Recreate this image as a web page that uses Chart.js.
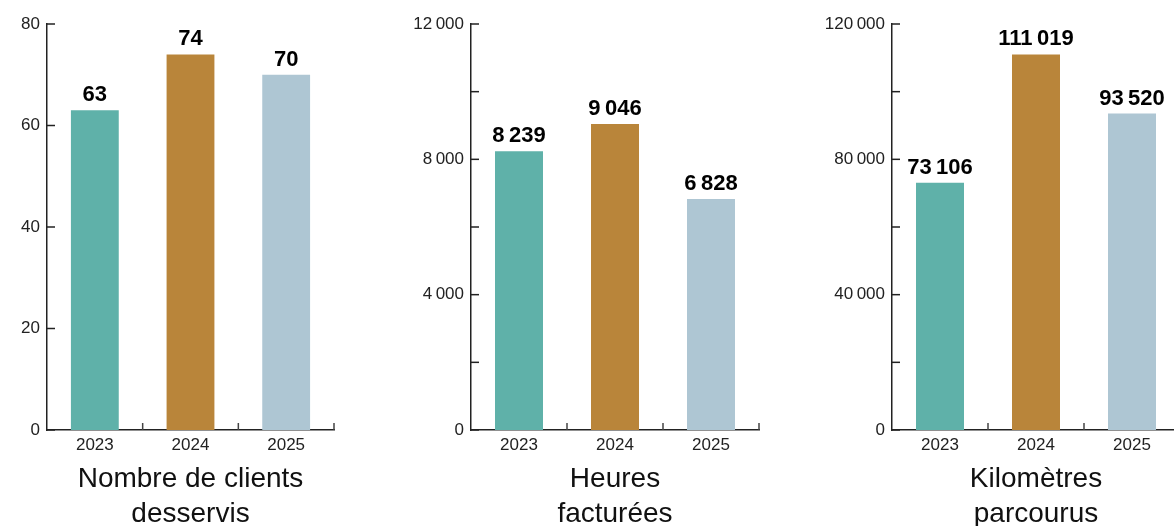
<!DOCTYPE html>
<html>
<head>
<meta charset="utf-8">
<script src="https://cdn.jsdelivr.net/npm/chart.js@4"></script>
<style>
  html, body { margin: 0; padding: 0; background: #fff; }
  body { width: 1174px; height: 526px; overflow: hidden; position: relative; }
  .panel { position: absolute; top: 0; }
</style>
</head>
<body>
<div class="panel" style="left:0px"><canvas id="chart1" width="400" height="540"></canvas></div>
<div class="panel" style="left:400px"><canvas id="chart2" width="420" height="540"></canvas></div>
<div class="panel" style="left:820px"><canvas id="chart3" width="420" height="540"></canvas></div>
<script>
    const years = ['2023', '2024', '2025'];
    const clients = [63, 74, 70];
    const heures = [8239, 9046, 6828];
    const kilometres = [73106, 111019, 93520];
    const titles = [['Nombre de clients', 'desservis'], ['Heures', 'facturées'], ['Kilomètres', 'parcourus']];
    const yMax = [80, 12000, 120000];
    const yMajor = [20, 4000, 40000];
    const yMinor = [20, 2000, 20000];
    const colors = ['#5fb1a9', '#b9853a', '#aec6d3'];

    const FONT = "'Liberation Sans', Arial, Helvetica, sans-serif";

    // espace fine comme séparateur de milliers
    function fmt(v) {
        return v.toLocaleString('fr-FR').replace(/\s/g, '\u2009');
    }

    const valueLabels = {
        id: 'valueLabels',
        afterDatasetsDraw(chart) {
            const ctx = chart.ctx;
            const meta = chart.getDatasetMeta(0);
            const values = chart.data.datasets[0].data;
            ctx.save();
            ctx.font = 'bold 22px ' + FONT;
            ctx.fillStyle = '#000';
            ctx.textAlign = 'center';
            ctx.textBaseline = 'alphabetic';
            meta.data.forEach((bar, i) => {
                ctx.fillText(fmt(values[i]), bar.x, bar.y - 9);
            });
            ctx.restore();
        }
    };

    // graduations tournées vers l'intérieur
    const innerTicks = {
        id: 'innerTicks',
        afterDraw(chart) {
            const ctx = chart.ctx;
            const area = chart.chartArea;
            const x = chart.scales.x;
            const y = chart.scales.y;
            ctx.save();
            ctx.lineWidth = 1.5;
            ctx.strokeStyle = '#222';
            y.ticks.forEach((t, i) => {
                const py = y.getPixelForTick(i);
                ctx.beginPath();
                ctx.moveTo(area.left, py);
                ctx.lineTo(area.left + 8, py);
                ctx.stroke();
            });
            ctx.strokeStyle = '#444';
            for (let i = 1; i <= x.ticks.length; i++) {
                const px = x.getPixelForValue(i - 0.5);
                ctx.beginPath();
                ctx.moveTo(px, area.bottom);
                ctx.lineTo(px, area.bottom - 7);
                ctx.stroke();
            }
            ctx.restore();
        }
    };

    function makeChart(id, values, title, max, major, minor, axisWidth, padRight) {
        return new Chart(document.getElementById(id), {
            type: 'bar',
            data: {
                labels: years,
                datasets: [{
                    data: values,
                    backgroundColor: colors,
                    categoryPercentage: 1,
                    barPercentage: 0.5
                }]
            },
            options: {
                responsive: false,
                animation: false,
                layout: { padding: { top: 24, right: padRight, left: 0, bottom: 0 } },
                plugins: { legend: { display: false }, tooltip: { enabled: false } },
                scales: {
                    x: {
                        grid: { display: false, drawTicks: false },
                        border: { display: true, color: '#222', width: 1.5 },
                        ticks: { padding: 5, color: '#222', font: { family: FONT, size: 17 } },
                        title: {
                            display: true,
                            text: title,
                            color: '#111',
                            font: { family: FONT, size: 28, lineHeight: 1.26 },
                            padding: { top: 0, bottom: 8 }
                        },
                        afterFit(s) { s.height = 110; }
                    },
                    y: {
                        min: 0,
                        max: max,
                        grid: { display: false, drawTicks: false },
                        border: { display: true, color: '#222', width: 1.5 },
                        ticks: {
                            stepSize: minor,
                            padding: 7,
                            color: '#222',
                            font: { family: FONT, size: 17 },
                            callback: v => (v % major === 0 ? fmt(v) : '')
                        },
                        afterFit(s) { s.width = axisWidth; }
                    }
                }
            },
            plugins: [valueLabels, innerTicks]
        });
    }

    makeChart('chart1', clients, titles[0], yMax[0], yMajor[0], yMinor[0], 47, 66);
    makeChart('chart2', heures, titles[1], yMax[1], yMajor[1], yMinor[1], 71, 61);
    makeChart('chart3', kilometres, titles[2], yMax[2], yMajor[2], yMinor[2], 72, 60);
</script>
</body>
</html>
